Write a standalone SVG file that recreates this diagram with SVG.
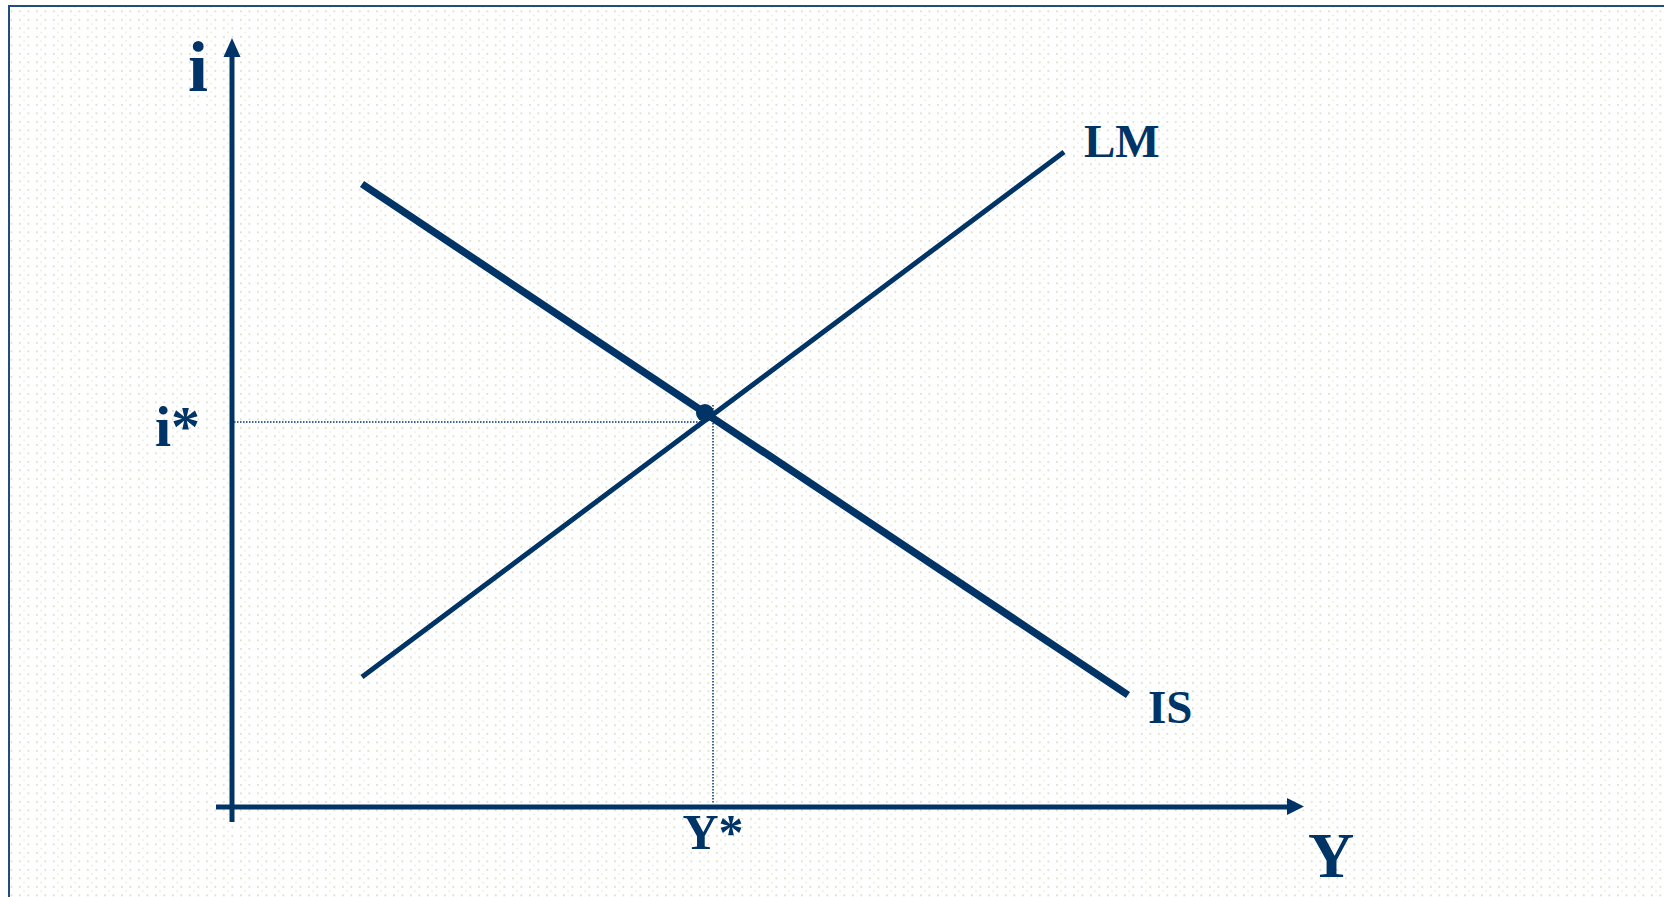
<svg xmlns="http://www.w3.org/2000/svg" width="1664" height="897" viewBox="0 0 1664 897">
<defs>
<pattern id="dots" width="17" height="8.5" patternUnits="userSpaceOnUse">
<rect x="2" y="2" width="1.7" height="1.7" fill="#dcdcc2"/>
<rect x="10.5" y="2" width="1.7" height="1.7" fill="#dcdcc2"/>
<rect x="6.25" y="6.25" width="1.5" height="1.5" fill="#e8e8d6"/>
</pattern>
<style>
.lbl{font-family:"Liberation Serif","Times New Roman",serif;font-weight:bold;fill:#003466}
.ax{stroke:#003466;stroke-width:5;fill:none}
.crv{stroke:#003466;fill:none;stroke-linecap:butt}
.dot{stroke:#003466;stroke-width:1.5;stroke-dasharray:1.5 1.5;fill:none}
</style>
</defs>
<rect width="1664" height="897" fill="#ffffff"/>
<rect x="9" y="6" width="1700" height="950" fill="url(#dots)" stroke="#1f4e7e" stroke-width="2"/>
<g id="axes">
<line class="ax" x1="232" y1="822" x2="232" y2="56"/>
<path d="M223.5,57 L232,38 L240.5,57 z" fill="#003466"/>
<line class="ax" x1="216" y1="807" x2="1288" y2="807" stroke-width="6"/>
<path d="M1287,798 L1304,806.5 L1287,815 z" fill="#003466"/>
</g>
<g id="connectors">
<line class="dot" x1="234" y1="422" x2="705" y2="422"/>
<line class="dot" x1="713" y1="405" x2="713" y2="804"/>
</g>
<g id="LM">
<line class="crv" x1="362" y1="677" x2="1064" y2="152" stroke-width="5"/>
<text class="lbl" x="1084" y="157" font-size="47">LM</text>
</g>
<g id="IS">
<line class="crv" x1="362" y1="184" x2="1128" y2="695" stroke-width="7.5"/>
<text class="lbl" x="1148" y="723" font-size="47">IS</text>
</g>
<g id="equilibrium">
<circle cx="705" cy="413" r="9" fill="#003466"/>
</g>
<g id="labels">
<text class="lbl" x="198" y="91" font-size="72" text-anchor="middle">i</text>
<text class="lbl" x="200" y="446" font-size="58" text-anchor="end">i*</text>
<text class="lbl" x="713" y="849" font-size="50" text-anchor="middle">Y*</text>
<text class="lbl" x="1331" y="877" font-size="64" text-anchor="middle">Y</text>
</g>
</svg>
